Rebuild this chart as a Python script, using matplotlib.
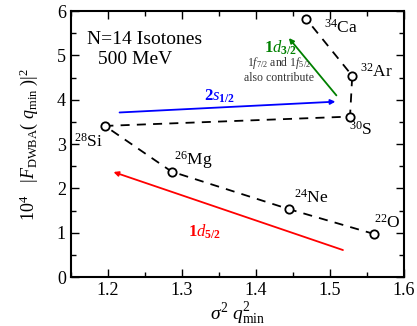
import matplotlib
matplotlib.use("Agg")
import matplotlib.pyplot as plt
from matplotlib.ticker import MultipleLocator

plt.rcParams['font.family'] = ['Liberation Serif', 'DejaVu Serif']
plt.rcParams['mathtext.fontset'] = 'custom'
plt.rcParams['mathtext.rm'] = 'Liberation Serif'
plt.rcParams['mathtext.it'] = 'Liberation Serif:italic'
plt.rcParams['mathtext.bf'] = 'Liberation Serif:bold'

# data (sigma^2 q_min^2, 10^4 |F|^2)
nuclei = ["22O", "24Ne", "26Mg", "28Si", "30S", "32Ar", "34Ca"]
labels = [r"$^{22}$O", r"$^{24}$Ne", r"$^{26}$Mg", r"$^{28}$Si", r"$^{30}$S", r"$^{32}$Ar", r"$^{34}$Ca"]
xvals = [1.560, 1.445, 1.286, 1.196, 1.527, 1.530, 1.468]
yvals = [0.97, 1.53, 2.38, 3.41, 3.62, 4.54, 5.82]

fig = plt.figure(figsize=(4.17, 3.26), dpi=100)
ax = fig.add_axes([0.170, 0.150, 0.799, 0.816])

ax.plot(xvals, yvals, ls=(0, (5, 4)), color='black', lw=1.3, marker='o',
        mfc='white', mec='black', ms=6, mew=1.3, zorder=3)

offsets = {
    "22O": (1.560, 1.22, 'left'),
    "24Ne": (1.452, 1.78, 'left'),
    "26Mg": (1.289, 2.64, 'left'),
    "28Si": (1.193, 3.06, 'right'),
    "30S": (1.525, 3.33, 'left'),
    "32Ar": (1.541, 4.63, 'left'),
    "34Ca": (1.492, 5.63, 'left'),
}
for n, lab in zip(nuclei, labels):
    tx, ty, ha = offsets[n]
    ax.text(tx, ty, lab, ha=ha, va='center', fontsize=12.5)

# arrows
ax.annotate('', xy=(1.511, 3.96), xytext=(1.212, 3.71),
            arrowprops=dict(arrowstyle='-|>', color='blue', lw=1.3, mutation_scale=7))
ax.annotate('', xy=(1.442, 5.44), xytext=(1.511, 4.05),
            arrowprops=dict(arrowstyle='-|>', color='green', lw=1.3, mutation_scale=7))
ax.annotate('', xy=(1.204, 2.39), xytext=(1.521, 0.59),
            arrowprops=dict(arrowstyle='-|>', color='red', lw=1.3, mutation_scale=7))

ax.text(1.33, 4.08, r"$\mathbf{2}\mathit{s}_{\mathbf{1/2}}$", color='blue', fontsize=12, ha='left', va='center')
ax.text(1.411, 5.17, r"$\mathbf{1}\mathit{d}_{\mathbf{3/2}}$", color='green', fontsize=12, ha='left', va='center')
ax.text(1.431, 4.64, r"1$f_{7/2}$ and 1$f_{5/2}$", color='#333333', fontsize=8.5, ha='center', va='bottom')
ax.text(1.431, 4.62, "also contribute", color='#333333', fontsize=8.5, ha='center', va='top')
ax.text(1.330, 1.03, r"$\mathbf{1}\mathit{d}_{\mathbf{5/2}}$", color='red', fontsize=12, ha='center', va='center')

ax.text(1.172, 5.35, "N=14 Isotones", fontsize=14, ha='left', va='center')
ax.text(1.186, 4.9, "500 MeV", fontsize=14, ha='left', va='center')

ax.set_xlim(1.15, 1.6)
ax.set_ylim(0, 6)
ax.xaxis.set_major_locator(MultipleLocator(0.1))
ax.xaxis.set_minor_locator(MultipleLocator(0.05))
ax.yaxis.set_major_locator(MultipleLocator(1))
ax.yaxis.set_minor_locator(MultipleLocator(0.5))
ax.tick_params(which='both', direction='in', top=True, right=True, labelsize=13)
ax.tick_params(which='major', length=6, width=1)
ax.tick_params(which='minor', length=3.5, width=1)
for s in ax.spines.values():
    s.set_linewidth(1.5)

ax.set_xlabel(r"$\sigma^2\ q^2_{\mathrm{min}}$", fontsize=14, labelpad=1)
ax.set_ylabel(r"10$^4$   |$F_{\mathrm{DWBA}}$( $q_{\mathrm{min}}$ )|$^2$", fontsize=13, labelpad=12)

fig.savefig("out.png", dpi=100)
